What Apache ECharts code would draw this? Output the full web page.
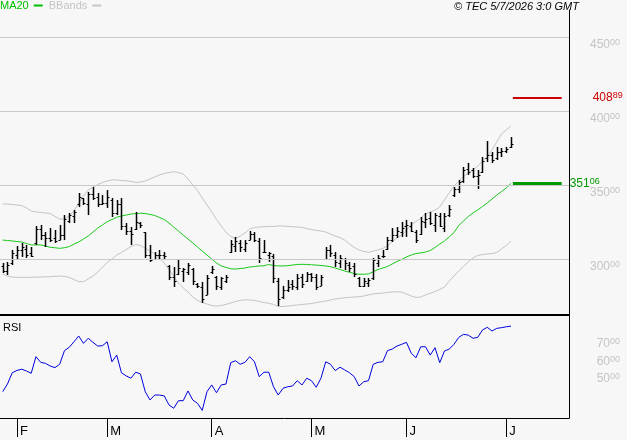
<!DOCTYPE html>
<html>
<head>
<meta charset="utf-8">
<script src="https://cdn.jsdelivr.net/npm/echarts@6.0.0/dist/echarts.min.js"></script>
<style>
  html, body { margin: 0; padding: 0; background: #f7f7f7; }
  #chart { width: 627px; height: 440px; }
</style>
</head>
<body>
<div id="chart"></div>
<script>
// trading days shown on the chart
const dates = [
  '2026-01-28', '2026-01-29', '2026-01-30',
  '2026-02-02', '2026-02-03', '2026-02-04', '2026-02-05', '2026-02-06', '2026-02-09', '2026-02-10',
  '2026-02-11', '2026-02-12', '2026-02-13', '2026-02-17', '2026-02-18', '2026-02-19', '2026-02-20',
  '2026-02-23', '2026-02-24', '2026-02-25', '2026-02-26', '2026-02-27',
  '2026-03-02', '2026-03-03', '2026-03-04', '2026-03-05', '2026-03-06', '2026-03-09', '2026-03-10',
  '2026-03-11', '2026-03-12', '2026-03-13', '2026-03-16', '2026-03-17', '2026-03-18', '2026-03-19',
  '2026-03-20', '2026-03-23', '2026-03-24', '2026-03-25', '2026-03-26', '2026-03-27', '2026-03-30', '2026-03-31',
  '2026-04-01', '2026-04-02', '2026-04-06', '2026-04-07', '2026-04-08', '2026-04-09', '2026-04-10',
  '2026-04-13', '2026-04-14', '2026-04-15', '2026-04-16', '2026-04-17', '2026-04-20', '2026-04-21',
  '2026-04-22', '2026-04-23', '2026-04-24', '2026-04-27', '2026-04-28', '2026-04-29', '2026-04-30',
  '2026-05-01', '2026-05-04', '2026-05-05', '2026-05-06', '2026-05-07', '2026-05-08', '2026-05-11',
  '2026-05-12', '2026-05-13', '2026-05-14', '2026-05-15', '2026-05-18', '2026-05-19', '2026-05-20',
  '2026-05-21', '2026-05-22', '2026-05-26', '2026-05-27', '2026-05-28', '2026-05-29',
  '2026-06-01', '2026-06-02', '2026-06-03', '2026-06-04', '2026-06-05', '2026-06-08', '2026-06-09',
  '2026-06-10', '2026-06-11', '2026-06-12', '2026-06-15', '2026-06-16', '2026-06-17', '2026-06-18',
  '2026-06-22', '2026-06-23', '2026-06-24', '2026-06-25', '2026-06-26', '2026-06-29', '2026-06-30',
  '2026-07-01', '2026-07-02'
]
// index of the first trading day of each month
const monthTicks = [3, 22, 44, 65, 85, 106]

const opens = [295, 292, 297, 303, 306, 307, 304, 311, 320, 316,
  314, 314, 313, 316, 326, 329, 337, 341, 337, 344,
  342, 337, 338, 340, 331, 337, 322, 319, 320, 324,
  318, 303, 300, 303, 303, 295, 288, 290, 292, 291,
  293, 283, 281, 276, 291, 288, 281, 285, 305, 309,
  311, 307, 313, 317, 312, 305, 303, 302, 285, 274,
  279, 283, 281, 288, 285, 290, 288, 282, 300, 306,
  303, 297, 300, 296, 295, 287, 282, 284, 287, 297,
  302, 307, 313, 316, 318, 322, 322, 318, 317, 325,
  328, 323, 329, 321, 330, 343, 347, 353, 361, 360,
  356, 359, 368, 370, 368, 372, 373, 376]
const highs = [297.3, 298.0, 306.1, 308.8, 310.8, 309.5, 308.1, 322.3, 323.0, 318.2,
  320.9, 319.6, 323.0, 329.7, 331.1, 333.1, 344.6, 341.2, 345.3, 348.6,
  344.6, 343.2, 346.6, 341.2, 339.9, 341.2, 324.3, 321.6, 331.8, 325.0,
  318.2, 309.5, 304.7, 306.1, 304.7, 295.9, 294.6, 299.3, 293.9, 297.3,
  293.9, 283.8, 284.5, 289.2, 295.3, 288.5, 287.8, 289.2, 312.8, 314.9,
  312.8, 312.8, 318.9, 318.2, 314.2, 312.8, 304.7, 303.4, 287.2, 281.8,
  285.8, 285.8, 289.9, 289.9, 291.2, 290.5, 289.9, 289.2, 308.1, 309.5,
  304.7, 302.7, 300.7, 298.0, 297.3, 287.8, 287.2, 287.2, 300.7, 302.7,
  306.1, 314.9, 320.9, 321.6, 325.0, 326.4, 325.0, 319.6, 328.4, 331.1,
  331.8, 331.1, 331.1, 331.1, 336.5, 348.6, 353.4, 362.2, 364.9, 361.5,
  360.1, 368.9, 379.7, 372.3, 375.7, 375.0, 375.7, 382.4]
const lows = [290.5, 289.2, 295.9, 300.0, 301.4, 300.7, 301.4, 309.5, 312.8, 308.1,
  311.5, 310.8, 312.8, 312.8, 324.3, 324.3, 335.1, 336.5, 329.7, 339.9,
  335.1, 336.5, 334.5, 328.4, 329.7, 319.6, 316.2, 309.5, 319.6, 320.9,
  300.7, 298.0, 299.3, 299.3, 299.3, 285.8, 281.1, 289.2, 284.5, 289.2,
  282.4, 280.4, 270.3, 275.7, 289.9, 279.1, 279.1, 283.8, 304.1, 304.7,
  304.7, 304.7, 312.8, 311.5, 297.3, 304.1, 298.0, 283.8, 268.2, 273.0,
  277.7, 279.1, 279.1, 280.4, 284.5, 284.5, 279.1, 281.8, 299.3, 301.4,
  294.6, 293.9, 292.6, 291.2, 287.8, 281.1, 281.1, 281.1, 285.8, 294.6,
  300.7, 306.1, 311.5, 314.2, 314.9, 314.9, 318.2, 310.8, 316.2, 320.9,
  323.0, 318.2, 321.6, 318.2, 328.4, 341.9, 344.6, 351.4, 356.8, 354.7,
  347.3, 358.1, 365.5, 364.9, 366.9, 368.9, 371.6, 375.0]
const closes = [292, 296, 304, 306, 308, 303, 302, 320, 316, 314,
  313, 312, 316, 327, 330, 332, 342, 338, 344, 341,
  337, 338, 342, 331, 337, 322, 319, 317, 325, 323,
  303, 299, 303, 303, 302, 288, 285, 294, 293, 296,
  285, 282, 273, 287, 293, 282, 287, 288, 310, 312,
  308, 311, 317, 313, 301, 305, 304, 287, 273, 279,
  281, 282, 287, 283, 290, 288, 281, 288, 306, 304,
  298, 301, 297, 294, 290, 282, 285, 286, 299, 301,
  302, 313, 316, 319, 321, 323, 319, 313, 326, 327,
  324, 330, 322, 329, 334, 347, 352, 360, 359, 356,
  357, 366, 370, 367, 372, 373, 374, 378]

const ma20 = [312.8, 312.5, 312.2, 311.8, 311.5, 310.5, 309.5, 309.5, 309.5, 308.8,
  307.9, 307.6, 307.2, 307.6, 308.4, 310.1, 311.5, 313.5, 315.5, 318.2,
  320.9, 323.0, 325.2, 326.7, 328.2, 329.1, 329.7, 330.4, 330.7, 330.9,
  330.7, 330.1, 329.4, 328.0, 326.7, 324.3, 321.6, 318.9, 316.2, 313.5,
  310.8, 308.1, 305.4, 302.7, 300.0, 297.3, 295.3, 294.3, 293.4, 293.2,
  293.6, 293.9, 294.6, 294.9, 295.3, 295.4, 296.3, 295.6, 295.3, 295.3,
  295.5, 295.9, 296.3, 296.4, 296.3, 296.1, 295.9, 295.6, 295.3, 294.8,
  293.9, 292.9, 291.9, 291.0, 290.2, 289.7, 289.7, 289.9, 291.4, 292.9,
  293.9, 294.9, 296.6, 298.3, 299.7, 301.4, 302.7, 303.7, 304.1, 304.7,
  305.7, 307.8, 310.1, 312.2, 314.9, 317.9, 322.6, 325.7, 328.7, 331.1,
  333.1, 335.5, 337.8, 340.5, 343.2, 345.6, 348.0, 351.06]
const bbUpper = [337.2, 337.2, 336.8, 336.5, 336.1, 334.5, 332.4, 331.8, 331.4, 331.1,
  330.7, 328.7, 327.0, 327.0, 329.1, 332.4, 337.8, 342.6, 346.6, 348.6,
  350.3, 351.7, 352.7, 353.4, 353.4, 353.0, 352.9, 352.4, 351.7, 352.0,
  352.7, 354.1, 355.4, 356.8, 357.8, 358.4, 359.0, 358.4, 357.4, 354.1,
  350.0, 346.3, 341.2, 336.5, 331.8, 326.7, 322.3, 318.2, 315.2, 313.9,
  315.5, 317.6, 320.3, 321.3, 321.6, 321.8, 322.0, 322.0, 322.3, 322.3,
  322.0, 321.8, 321.6, 321.3, 320.6, 319.9, 319.3, 318.9, 318.2, 316.9,
  315.5, 314.5, 312.8, 310.1, 307.8, 306.1, 305.1, 304.5, 305.4, 306.1,
  307.1, 308.8, 311.8, 314.2, 316.2, 319.6, 323.0, 325.3, 327.7, 330.4,
  331.8, 333.1, 335.1, 339.9, 344.6, 349.3, 352.7, 355.7, 358.1, 360.1,
  362.8, 366.2, 369.3, 373.6, 379.1, 384.5, 387.2, 389.9]
const bbLower = [289.9, 288.5, 287.8, 287.6, 287.6, 287.6, 287.6, 287.8, 287.8, 288.0,
  288.0, 288.3, 288.5, 288.2, 287.6, 286.1, 284.7, 284.7, 286.5, 288.5,
  291.2, 294.3, 297.6, 300.0, 302.7, 304.4, 306.4, 308.4, 309.8, 309.1,
  307.4, 305.4, 303.4, 300.7, 297.3, 292.9, 288.2, 283.8, 280.4, 277.7,
  274.3, 272.0, 270.6, 269.6, 268.6, 268.2, 268.6, 269.3, 270.3, 271.3,
  272.0, 272.4, 272.3, 272.0, 271.3, 270.6, 270.1, 269.3, 267.9, 267.9,
  268.2, 268.6, 268.9, 269.3, 269.6, 269.9, 270.6, 271.1, 271.6, 272.3,
  273.0, 273.4, 273.8, 274.1, 274.3, 274.5, 275.0, 275.7, 276.4, 276.7,
  277.0, 277.4, 277.7, 277.9, 277.7, 276.4, 275.0, 274.0, 274.3, 275.7,
  276.8, 278.0, 279.4, 281.1, 285.1, 288.5, 291.9, 294.9, 298.0, 300.7,
  302.4, 303.0, 303.4, 303.7, 304.4, 306.8, 309.1, 312.2]
const rsi = [39.1, 43.4, 49.8, 51.1, 51.8, 50.8, 49.5, 58.9, 55.7, 55.1,
  53.6, 52.7, 54.6, 62.3, 64.2, 67.3, 70.6, 66.4, 69.3, 67.0,
  64.9, 65.1, 67.3, 56.0, 59.8, 49.8, 48.0, 46.7, 50.1, 49.1,
  39.1, 34.4, 37.2, 37.2, 36.7, 31.6, 29.7, 34.0, 34.0, 39.5,
  34.4, 32.5, 28.5, 39.1, 42.9, 38.5, 42.9, 43.4, 55.5, 56.6,
  54.6, 55.7, 58.9, 56.0, 47.6, 50.1, 50.1, 41.9, 37.2, 41.0,
  41.9, 42.3, 45.3, 42.9, 46.7, 45.3, 41.6, 46.7, 56.0, 54.6,
  51.0, 52.9, 51.4, 49.8, 47.6, 42.3, 44.7, 45.3, 54.6, 55.7,
  56.0, 62.3, 63.2, 64.9, 65.9, 67.0, 60.8, 58.3, 64.5, 64.5,
  59.8, 64.0, 55.5, 62.1, 63.2, 65.9, 69.8, 71.5, 71.1, 69.3,
  69.8, 74.0, 75.5, 73.4, 74.9, 75.3, 75.8, 76.2]

const priceTicks = [300, 350, 400, 450]
const rsiTicks = [50, 60, 70]
const resistance = 408.89
const maLast = 351.06

const font = '"Liberation Sans", Arial, sans-serif'
const monthNames = 'JFMAMJJASOND'

// "450" + small raised "00"
function splitLabel (v) {
  const s = v.toFixed(2).split('.')
  return '{a|' + s[0] + '}{b|' + s[1] + '}'
}
function labelRich (color) {
  return {
    a: { fontSize: 12, color: color, fontFamily: font, lineHeight: 13 },
    b: { fontSize: 9, color: color, fontFamily: font, verticalAlign: 'top', lineHeight: 9 }
  }
}

// OHLC bar: vertical high-low, open tick left, close tick right
function renderOhlc (params, api) {
  const i = api.value(0)
  const op = api.coord([i, api.value(1)])
  const hi = api.coord([i, api.value(2)])
  const lo = api.coord([i, api.value(3)])
  const cl = api.coord([i, api.value(4)])
  const x = Math.round(hi[0]) + 0.5
  const oy = Math.round(op[1]) + 0.5
  const cy = Math.round(cl[1]) + 0.5
  return {
    type: 'group',
    children: [
      { type: 'line', shape: { x1: x, y1: hi[1], x2: x, y2: lo[1] }, style: { stroke: '#000', lineWidth: 1.5 } },
      { type: 'line', shape: { x1: x - 2, y1: oy, x2: x, y2: oy }, style: { stroke: '#000', lineWidth: 1 } },
      { type: 'line', shape: { x1: x, y1: cy, x2: x + 2, y2: cy }, style: { stroke: '#000', lineWidth: 1 } }
    ]
  }
}

const ohlcData = opens.map((o, i) => [i, o, highs[i], lows[i], closes[i]])
const idx = (arr) => arr.map((v, i) => [i, v])

const chart = echarts.init(document.getElementById('chart'))
const option = {
  backgroundColor: '#f7f7f7',
  animation: false,
  textStyle: { fontFamily: font },
  legend: {
    left: 0,
    top: 0,
    padding: 0,
    align: 'right',
    icon: 'rect',
    itemWidth: 9,
    itemHeight: 2,
    itemGap: 6,
    selectedMode: false,
    textStyle: { fontSize: 11, fontFamily: font, padding: [0, 0, 0, 0] },
    data: [
      { name: 'MA20', textStyle: { color: '#00c000' }, itemStyle: { color: '#00c000' } },
      { name: 'BBands', textStyle: { color: '#c4c4c4' }, itemStyle: { color: '#c4c4c4' } }
    ]
  },
  graphic: [
    {
      type: 'text', left: 454, top: 1,
      style: { text: '© TEC 5/7/2026 3:0 GMT', font: 'italic 11px ' + font, fill: '#000' }
    },
    {
      type: 'text', left: 3, top: 322,
      style: { text: 'RSI', font: '11px ' + font, fill: '#000' }
    }
  ],
  grid: [
    { left: 0, width: 569, top: 10, height: 305 },
    { left: 0, width: 569, top: 316, height: 102 }
  ],
  xAxis: [
    {
      type: 'value', gridIndex: 0, min: -0.57, max: 119.21,
      axisLine: { onZero: false, lineStyle: { color: '#000', width: 2 } },
      axisTick: { show: false }, axisLabel: { show: false }, splitLine: { show: false }
    },
    {
      type: 'value', gridIndex: 1, min: -0.57, max: 119.21,
      axisLine: { onZero: false, lineStyle: { color: '#000', width: 1 } },
      axisTick: { show: true, customValues: monthTicks, length: 19, lineStyle: { color: '#000', width: 1 } },
      axisLabel: {
        customValues: monthTicks,
        formatter: (v) => monthNames[+dates[v].slice(5, 7) - 1],
        align: 'left', padding: [0, 0, 0, 3], margin: 7,
        fontSize: 13, color: '#000', fontFamily: font
      },
      splitLine: { show: false }
    }
  ],
  yAxis: [
    {
      type: 'value', gridIndex: 0, position: 'right', min: 262.16, max: 468.24,
      axisLine: { show: true, onZero: false, lineStyle: { color: '#000', width: 1 } },
      axisTick: { show: false }, splitLine: { show: false },
      axisLabel: {
        customValues: priceTicks, formatter: splitLabel, rich: labelRich('#c4c4c4'),
        align: 'right', verticalAlign: 'top', margin: 51, padding: [1, 0, 0, 0]
      }
    },
    {
      type: 'value', gridIndex: 1, position: 'right', min: 24.2, max: 81.9,
      axisLine: { show: true, onZero: false, lineStyle: { color: '#000', width: 1 } },
      axisTick: { show: false }, splitLine: { show: false },
      axisLabel: {
        customValues: rsiTicks, formatter: splitLabel, rich: labelRich('#c4c4c4'),
        align: 'right', verticalAlign: 'top', margin: 51
      }
    }
  ],
  series: [
    {
      name: 'BBands', type: 'line', xAxisIndex: 0, yAxisIndex: 0, z: 1,
      data: idx(bbUpper), showSymbol: false, color: '#c4c4c4',
      lineStyle: { width: 1, color: '#c4c4c4' },
      markLine: {
        silent: true, symbol: 'none', animation: false,
        label: { show: false },
        lineStyle: { color: '#c8c8c8', width: 1, type: 'solid' },
        data: priceTicks.map(v => ({ yAxis: v }))
      }
    },
    {
      name: 'BBands', type: 'line', xAxisIndex: 0, yAxisIndex: 0, z: 1,
      data: idx(bbLower), showSymbol: false, color: '#c4c4c4',
      lineStyle: { width: 1, color: '#c4c4c4' }
    },
    {
      name: 'MA20', type: 'line', xAxisIndex: 0, yAxisIndex: 0, z: 2, clip: false,
      data: idx(ma20), showSymbol: false, color: '#19c819',
      lineStyle: { width: 1, color: '#19c819' },
      markLine: {
        silent: true, symbol: 'none', animation: false,
        data: [
          [
            {
              coord: [107.4, resistance],
              lineStyle: { color: '#cc0000', width: 2, type: 'solid' },
              label: {
                show: true, position: 'end', distance: 31,
                formatter: () => splitLabel(resistance), rich: labelRich('#cc0000')
              }
            },
            { coord: [117.67, resistance] }
          ],
          [
            {
              coord: [107.4, maLast],
              lineStyle: { color: '#009900', width: 3, type: 'solid' },
              label: {
                show: true, position: 'end', distance: 8,
                formatter: () => splitLabel(maLast), rich: labelRich('#009900')
              }
            },
            { coord: [117.67, maLast] }
          ]
        ]
      }
    },
    {
      name: 'Price', type: 'custom', xAxisIndex: 0, yAxisIndex: 0, z: 3,
      renderItem: renderOhlc,
      encode: { x: 0, y: [1, 2, 3, 4] },
      data: ohlcData
    },
    {
      name: 'RSI', type: 'line', xAxisIndex: 1, yAxisIndex: 1,
      data: idx(rsi), showSymbol: false, color: '#0000dd',
      lineStyle: { width: 1, color: '#0000dd' }
    }
  ]
}
chart.setOption(option)
</script>
</body>
</html>
